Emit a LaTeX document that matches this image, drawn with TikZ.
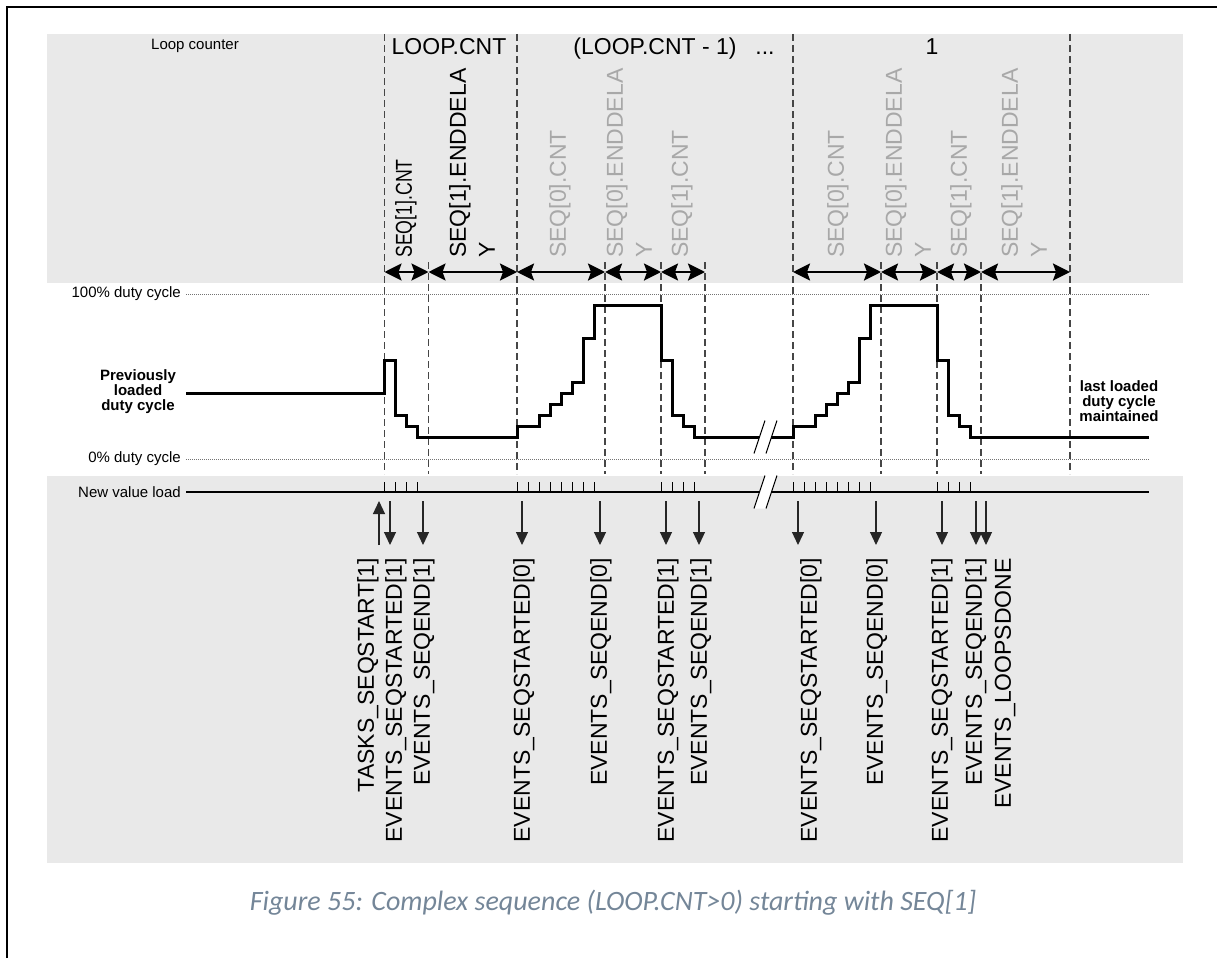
\documentclass[tikz,border=0pt]{standalone}
\usepackage{fontspec}
\setmainfont{Liberation Sans}
\newfontfamily\capfont{Carlito}
\usetikzlibrary{arrows.meta, positioning}
\definecolor{bandgray}{RGB}{233,233,233}
\definecolor{guidegray}{RGB}{70,70,70}
\definecolor{seqgray}{RGB}{168,168,168}
\definecolor{captionblue}{RGB}{116,134,152}
% break mark: centre x, centre y
\newcommand{\cutmark}[2]{%
  \fill[white] (#1-11.5,#2+16.5) -- (#1-0.5,#2-16.5) -- (#1+11.5,#2-16.5) -- (#1+0.5,#2+16.5) -- cycle;
  \draw[line width=1pt] (#1-11.5,#2+16.5) -- (#1-0.5,#2-16.5);
  \draw[line width=1pt] (#1+0.5,#2+16.5) -- (#1+11.5,#2-16.5);}

\begin{document}
\begin{tikzpicture}[
    x=1pt, y=-1pt,
    guide/.style={draw=guidegray, line width=1.1pt, dash pattern=on 7pt off 4pt},
    lvl/.style={draw=black!55, line width=0.8pt, dash pattern=on 1pt off 1pt},
    spanarr/.style={line width=2.5pt,
        {Stealth[length=17pt,width=17pt,inset=3pt]}-{Stealth[length=17pt,width=17pt,inset=3pt]}},
    seqlbl/.style={rotate=90, anchor=north west, inner sep=0pt, align=left,
        font=\fontsize{23}{29}\selectfont},
    evt/.style={line width=1.2pt, draw=black!85, -{Triangle[length=13pt,width=12pt]}},
    evtlbl/.style={rotate=90, anchor=east, inner sep=0pt, font=\fontsize{23}{28}\selectfont},
    sidelbl/.style={font=\fontsize{15}{15}\selectfont\bfseries, align=center, inner sep=0pt},
    axislbl/.style={font=\fontsize{15}{18}\selectfont, inner sep=0pt},
    sig/.style={line width=3pt, line join=miter}
]
    \useasboundingbox (0,0) rectangle (1217,958);

    % Frame and bands
    \draw[line width=2.5pt] (7,958) -- (7,7) -- (1217,7);
    \fill[bandgray] (47,34) rectangle (1183,283);
    \fill[bandgray] (47,476) rectangle (1183,863);

    % Loop counter
    \node[axislbl, anchor=base] (loopcnt) at (195,50) {Loop counter};
    \node[font=\fontsize{23}{28}\selectfont, anchor=base, inner sep=0pt] (cntn) at (449,55) {LOOP.CNT};
    \node[font=\fontsize{23}{28}\selectfont, anchor=base, inner sep=0pt] (cntm) at (655,55) {(LOOP.CNT - 1)};
    \node[font=\fontsize{23}{28}\selectfont, anchor=base, inner sep=0pt] (dots) at (765,55) {...};
    \node[font=\fontsize{23}{28}\selectfont, anchor=base, inner sep=0pt] (cntone) at (932,55) {1};

    % Time marks
    \foreach \n/\x in {1/384.5,2/428.5,3/517,4/605,5/661,6/705,7/793,8/881,9/937,10/981,11/1070}
        \coordinate (t\n) at (\x,272);
    \foreach \x in {384.5,517,793,1070}
        \draw[guide] (\x,34) -- (\x,474);
    \foreach \x in {428.5,605,661,705,881,937,981}
        \draw[guide] (\x,262) -- (\x,474);
    \foreach \a/\b in {1/2,2/3,3/4,4/5,5/6,7/8,8/9,9/10,10/11}
        \draw[spanarr] (t\a) -- (t\b);

    % Sequence labels
    \node[seqlbl] (s1) at (395,258) {\scalebox{0.77}[1]{SEQ[1].CNT}};
    \node[seqlbl] (s2) at (449,258) {SEQ[1].ENDDELA\\Y};
    \node[seqlbl, text=seqgray] (s3) at (549,258) {SEQ[0].CNT};
    \node[seqlbl, text=seqgray] (s4) at (606,258) {SEQ[0].ENDDELA\\Y};
    \node[seqlbl, text=seqgray] (s5) at (671,258) {SEQ[1].CNT};
    \node[seqlbl, text=seqgray] (s6) at (827,258) {SEQ[0].CNT};
    \node[seqlbl, text=seqgray] (s7) at (885,258) {SEQ[0].ENDDELA\\Y};
    \node[seqlbl, text=seqgray] (s8) at (950,258) {SEQ[1].CNT};
    \node[seqlbl, text=seqgray] (s9) at (1001,258) {SEQ[1].ENDDELA\\Y};

    % Duty cycle levels
    \draw[lvl] (186,294) -- (1149,294);
    \draw[lvl] (186,459) -- (1149,459);
    \node[axislbl, anchor=east] (full) at (181,294) {100\% duty cycle};
    \node[axislbl, anchor=east] (zero) at (181,459) {0\% duty cycle};
    \node[sidelbl] (prev) at (138,392) {Previously\\loaded\\duty cycle};
    \node[sidelbl] (last) at (1119,401) {last loaded\\duty cycle\\maintained};

    % Waveform
    \draw[sig] (186,393) -| (384.5,360) -| (395.7,415) -| (406.7,426) -| (417.7,437)
        -| (517,426) -| (539,415) -| (550,404) -| (561,393) -| (572,382) -| (583,338) -| (594,305)
        -| (661,360) -| (672,415) -| (683,426) -| (694,437)
        -| (793,426) -| (815,415) -| (826,404) -| (837,393) -| (848,382) -| (859,338) -| (870,305)
        -| (937,360) -| (948,415) -| (959,426) -| (970,437) -- (1149,437);
    \cutmark{765.5}{437}

    % New value load
    \node[axislbl, anchor=east] (load) at (181,492) {New value load};
    \draw[line width=1.3pt] (186,492) -- (1149,492);
    \foreach \x in {384.5,395.7,406.7,417.7,517,528,539,550,561,572,583,594,
                    661,672,683,694,793,804,815,826,837,848,859,870,937,948,959,970}
        \draw[line width=1pt] (\x,492) -- (\x,482);
    \cutmark{765.5}{492}

    % Events
    \foreach \n/\x/\lx/\txt in {1/379/368/TASKS\_SEQSTART[1],
            2/390/396/EVENTS\_SEQSTARTED[1], 3/423/424/EVENTS\_SEQEND[1],
            4/522/524/EVENTS\_SEQSTARTED[0], 5/600/601/EVENTS\_SEQEND[0],
            6/666/668/EVENTS\_SEQSTARTED[1], 7/699/701/EVENTS\_SEQEND[1],
            8/798/811/EVENTS\_SEQSTARTED[0], 9/876/877/EVENTS\_SEQEND[0],
            10/942/942/EVENTS\_SEQSTARTED[1], 11/976/976/EVENTS\_SEQEND[1],
            12/986/1005/EVENTS\_LOOPSDONE} {
        \coordinate (a\n) at (\x,501);
        \coordinate (b\n) at (\x,545);
        \node[evtlbl] (ev\n) at (\lx,558) {\txt};
    }
    \draw[evt] (b1) -- (a1);
    \foreach \n in {2,...,12}
        \draw[evt] (a\n) -- (b\n);

    % Caption
    \node[font=\capfont\itshape\fontsize{28}{32}\selectfont, text=captionblue, anchor=base, inner sep=0pt]
        (caption) at (613,910) {Figure 55: Complex sequence (LOOP.CNT>0) starting with SEQ[1]};
\end{tikzpicture}
\end{document}
